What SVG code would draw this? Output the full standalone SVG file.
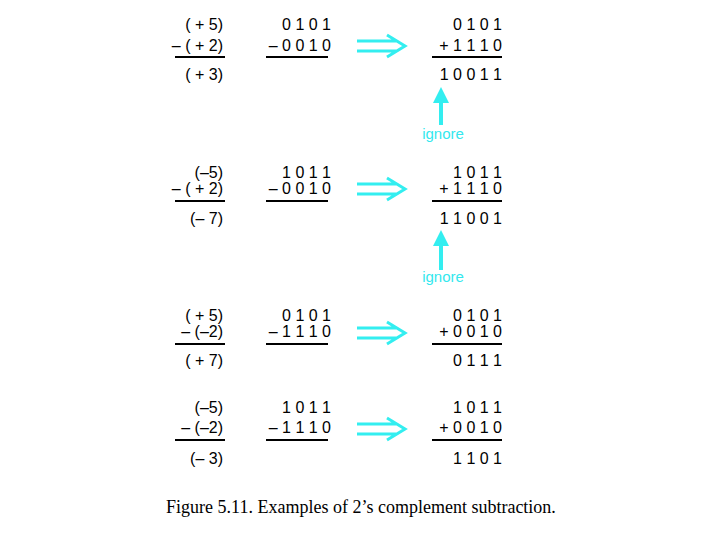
<svg xmlns="http://www.w3.org/2000/svg" width="720" height="540" viewBox="0 0 720 540" xml:space="preserve">
<style>
text{font-family:"Liberation Sans",Arial,sans-serif;font-size:16px;fill:#000;text-anchor:end}
.ig{fill:#33e8ee;text-anchor:middle;font-size:15px}
.rule{stroke:#000;stroke-width:2}
.da{fill:none;stroke:#33eef0;stroke-width:3}
.cap{font-family:"Liberation Serif","Times New Roman",serif;font-size:18px;text-anchor:middle}
</style>
<defs>
<g id="dbl"><path class="da" d="M357 41H397M357 51H397M387 35L405 46L387 57"/></g>
<marker id="ah" markerWidth="4" markerHeight="4" refX="2" refY="2" orient="auto"><path d="M0 0L4 2L0 4Z" fill="#33eef0"/></marker>
</defs>
<g id="ex1">
<text x="223" y="30">( + 5)</text><text x="223" y="51">– ( + 2)</text><line class="rule" x1="175" y1="57" x2="225" y2="57"/><text x="223" y="80">( + 3)</text>
<text x="331" y="30">0 1 0 1</text><text x="331" y="51">– 0 0 1 0</text><line class="rule" x1="266" y1="57" x2="328" y2="57"/>
<use href="#dbl"/>
<text x="502" y="30">0 1 0 1</text><text x="502" y="51">+  1 1 1 0</text><line class="rule" x1="432" y1="57" x2="502" y2="57"/><text x="502" y="80">1 0 0 1 1</text>
</g>
<g id="ex2">
<text x="223" y="178">(–5)</text><text x="223" y="194">– ( + 2)</text><line class="rule" x1="175" y1="201" x2="225" y2="201"/><text x="223" y="224">(– 7)</text>
<text x="331" y="178">1 0 1 1</text><text x="331" y="194">– 0 0 1 0</text><line class="rule" x1="266" y1="201" x2="328" y2="201"/>
<use href="#dbl" transform="translate(0,143)"/>
<text x="502" y="178">1 0 1 1</text><text x="502" y="194">+  1 1 1 0</text><line class="rule" x1="432" y1="201" x2="502" y2="201"/><text x="502" y="224">1 1 0 0 1</text>
</g>
<g id="ex3">
<text x="223" y="321">( + 5)</text><text x="223" y="337">–  (–2)</text><line class="rule" x1="175" y1="344" x2="225" y2="344"/><text x="223" y="366">( + 7)</text>
<text x="331" y="321">0 1 0 1</text><text x="331" y="337">– 1 1 1 0</text><line class="rule" x1="266" y1="344" x2="328" y2="344"/>
<use href="#dbl" transform="translate(0,287)"/>
<text x="502" y="321">0 1 0 1</text><text x="502" y="337">+  0 0 1 0</text><line class="rule" x1="432" y1="344" x2="502" y2="344"/><text x="502" y="366">0 1 1 1</text>
</g>
<g id="ex4">
<text x="223" y="413">(–5)</text><text x="223" y="433">–  (–2)</text><line class="rule" x1="175" y1="440" x2="225" y2="440"/><text x="223" y="464">(– 3)</text>
<text x="331" y="413">1 0 1 1</text><text x="331" y="433">– 1 1 1 0</text><line class="rule" x1="266" y1="440" x2="328" y2="440"/>
<use href="#dbl" transform="translate(0,383)"/>
<text x="502" y="413">1 0 1 1</text><text x="502" y="433">+  0 0 1 0</text><line class="rule" x1="432" y1="440" x2="502" y2="440"/><text x="502" y="464">1 1 0 1</text>
</g>
<g id="connectors">
<path d="M441 125V95" stroke="#33eef0" stroke-width="4" marker-end="url(#ah)"/>
<path d="M441 270V238" stroke="#33eef0" stroke-width="4" marker-end="url(#ah)"/>
</g>
<g id="labels">
<text class="ig" x="443" y="139">ignore</text>
<text class="ig" x="443" y="282">ignore</text>
<text class="cap" x="361" y="513">Figure 5.11.  Examples of 2’s complement subtraction.</text>
</g>
</svg>
